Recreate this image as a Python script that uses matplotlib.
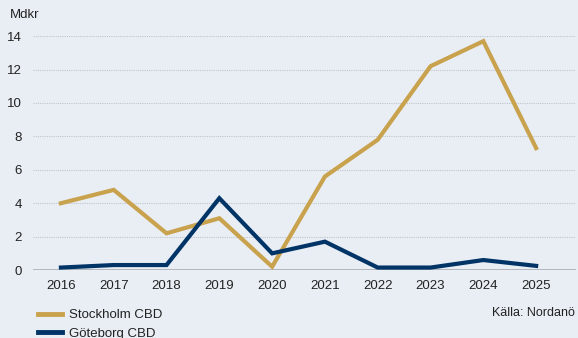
import matplotlib.pyplot as plt
from matplotlib.lines import Line2D

plt.rcParams['font.family'] = ['Liberation Sans', 'DejaVu Sans']

years = [2016, 2017, 2018, 2019, 2020, 2021, 2022, 2023, 2024, 2025]
stockholm = [4.0, 4.8, 2.2, 3.1, 0.2, 5.6, 7.8, 12.2, 13.7, 7.3]
goteborg = [0.15, 0.3, 0.3, 4.3, 1.0, 1.7, 0.15, 0.15, 0.6, 0.25]
yticks = [0, 2, 4, 6, 8, 10, 12, 14]

bg = '#E9EEF5'
gold = '#C9A24D'
navy = '#003366'
text_col = '#222222'

fig = plt.figure(figsize=(5.78, 3.38), dpi=100, facecolor=bg)
ax = fig.add_axes([0.057, 0.201, 0.940, 0.692], facecolor=bg)

ax.plot(years, stockholm, color=gold, lw=3.0, solid_joinstyle='miter', zorder=3)
ax.plot(years, goteborg, color=navy, lw=3.0, solid_joinstyle='miter', zorder=4)

ax.set_xlim(2015.47, 2025.76)
ax.set_ylim(0, 14)
ax.set_yticks(yticks)
ax.set_xticks(years)
ax.set_yticklabels([str(v) for v in yticks])
ax.set_xticklabels([str(y) for y in years])

# dotted horizontal grid, solid baseline at zero
for v in yticks[1:]:
    ax.axhline(v, color='#C0C4CA', lw=0.8, ls=(0, (1, 1)), zorder=1)
ax.axhline(0, color='#A9ADB3', lw=1.2, zorder=2)

for s in ax.spines.values():
    s.set_visible(False)
ax.tick_params(axis='both', length=0, labelsize=9.5, colors=text_col)
ax.tick_params(axis='y', pad=8)
ax.tick_params(axis='x', pad=7)

fig.text(0.017, 0.955, 'Mdkr', fontsize=9.5, color=text_col, ha='left', va='center')

handles = [Line2D([], [], color=gold, lw=3.5),
           Line2D([], [], color=navy, lw=3.5)]
fig.legend(handles, ['Stockholm CBD', 'Göteborg CBD'], loc='upper left',
           bbox_to_anchor=(0.055, 0.105), frameon=False, fontsize=9.5,
           handlelength=1.8, handletextpad=0.5, labelspacing=0.45,
           borderpad=0, labelcolor=text_col)

fig.text(0.995, 0.073, 'Källa: Nordanö', fontsize=9, color=text_col,
         ha='right', va='center')

fig.savefig('out.png', dpi=100, facecolor=bg)
